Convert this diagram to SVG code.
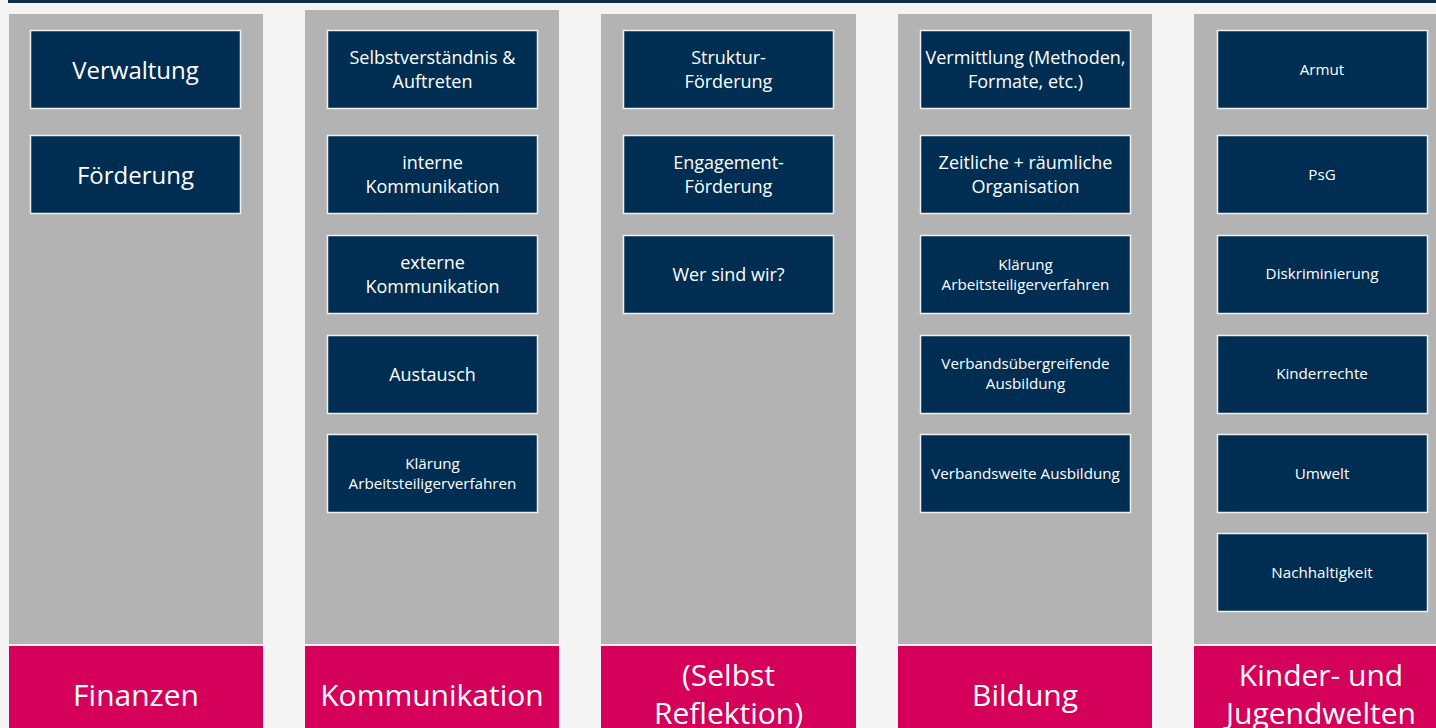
<svg xmlns="http://www.w3.org/2000/svg" width="1436" height="728" viewBox="0 0 1436 728">
<style>
.col{fill:#b3b3b3}
.foot{fill:#d5005a}
.box{fill:#002e52;stroke:#f0f0f0;stroke-width:1.5}
text{font-family:"Open Sans","Lato",sans-serif;fill:#ffffff;text-anchor:middle;dominant-baseline:central}
.t24{font-size:24px}
.t18{font-size:18px}
.t15{font-size:15.2px}
.t30{font-size:30px}
</style>
<rect x="0" y="0" width="1436" height="728" fill="#f4f4f4"/>
<rect x="8" y="0" width="1428" height="3" fill="#0e2c4c"/>
<g id="columns">
<rect class="col" x="9" y="14" width="254" height="630"/>
<rect class="col" x="305" y="10" width="254" height="634"/>
<rect class="col" x="601" y="14" width="255" height="630"/>
<rect class="col" x="898" y="14" width="254" height="630"/>
<rect class="col" x="1194" y="14" width="242" height="630"/>
</g>
<g id="footer-finanzen"><rect class="foot" x="9" y="646" width="254" height="82"/><text class="t30" x="136" y="694">Finanzen</text></g>
<g id="footer-kommunikation"><rect class="foot" x="305" y="646" width="254" height="82"/><text class="t30" x="432" y="694">Kommunikation</text></g>
<g id="footer-reflektion"><rect class="foot" x="601" y="646" width="255" height="82"/><text class="t30" x="728.5" y="674">(Selbst</text><text class="t30" x="728.5" y="712">Reflektion)</text></g>
<g id="footer-bildung"><rect class="foot" x="898" y="646" width="254" height="82"/><text class="t30" x="1025" y="694">Bildung</text></g>
<g id="footer-kinder"><rect class="foot" x="1194" y="646" width="242" height="82"/><text class="t30" x="1321" y="674">Kinder- und</text><text class="t30" x="1321" y="712">Jugendwelten</text></g>

<g id="n-verwaltung"><rect class="box" x="30.5" y="30.5" width="210" height="78"/><text class="t24" x="135.5" y="69">Verwaltung</text></g>
<g id="n-foerderung"><rect class="box" x="30.5" y="135.5" width="210" height="78"/><text class="t24" x="135.5" y="174">Förderung</text></g>

<g id="n-selbst"><rect class="box" x="327.5" y="30.5" width="210" height="78"/><text class="t18" x="432.5" y="57">Selbstverständnis &amp;</text><text class="t18" x="432.5" y="81">Auftreten</text></g>
<g id="n-intern"><rect class="box" x="327.5" y="135.5" width="210" height="78"/><text class="t18" x="432.5" y="162">interne</text><text class="t18" x="432.5" y="186">Kommunikation</text></g>
<g id="n-extern"><rect class="box" x="327.5" y="235.5" width="210" height="78"/><text class="t18" x="432.5" y="262">externe</text><text class="t18" x="432.5" y="286">Kommunikation</text></g>
<g id="n-austausch"><rect class="box" x="327.5" y="335.5" width="210" height="78"/><text class="t18" x="432.5" y="374">Austausch</text></g>
<g id="n-klaerung1"><rect class="box" x="327.5" y="434.5" width="210" height="78"/><text class="t15" x="432.5" y="463">Klärung</text><text class="t15" x="432.5" y="483">Arbeitsteiligerverfahren</text></g>

<g id="n-struktur"><rect class="box" x="623.5" y="30.5" width="210" height="78"/><text class="t18" x="728.5" y="57">Struktur-</text><text class="t18" x="728.5" y="81">Förderung</text></g>
<g id="n-engagement"><rect class="box" x="623.5" y="135.5" width="210" height="78"/><text class="t18" x="728.5" y="162">Engagement-</text><text class="t18" x="728.5" y="186">Förderung</text></g>
<g id="n-wer"><rect class="box" x="623.5" y="235.5" width="210" height="78"/><text class="t18" x="728.5" y="274">Wer sind wir?</text></g>

<g id="n-vermittlung"><rect class="box" x="920.5" y="30.5" width="210" height="78"/><text class="t18" x="1025.5" y="57">Vermittlung (Methoden,</text><text class="t18" x="1025.5" y="81">Formate, etc.)</text></g>
<g id="n-zeitlich"><rect class="box" x="920.5" y="135.5" width="210" height="78"/><text class="t18" x="1025.5" y="162">Zeitliche + räumliche</text><text class="t18" x="1025.5" y="186">Organisation</text></g>
<g id="n-klaerung2"><rect class="box" x="920.5" y="235.5" width="210" height="78"/><text class="t15" x="1025.5" y="264">Klärung</text><text class="t15" x="1025.5" y="284">Arbeitsteiligerverfahren</text></g>
<g id="n-verbandsueber"><rect class="box" x="920.5" y="335.5" width="210" height="78"/><text class="t15" x="1025.5" y="363">Verbandsübergreifende</text><text class="t15" x="1025.5" y="383">Ausbildung</text></g>
<g id="n-verbandsweit"><rect class="box" x="920.5" y="434.5" width="210" height="78"/><text class="t15" x="1025.5" y="473">Verbandsweite Ausbildung</text></g>

<g id="n-armut"><rect class="box" x="1217.5" y="30.5" width="210" height="78"/><text class="t15" x="1322" y="69">Armut</text></g>
<g id="n-psg"><rect class="box" x="1217.5" y="135.5" width="210" height="78"/><text class="t15" x="1322" y="174">PsG</text></g>
<g id="n-diskriminierung"><rect class="box" x="1217.5" y="235.5" width="210" height="78"/><text class="t15" x="1322" y="273">Diskriminierung</text></g>
<g id="n-kinderrechte"><rect class="box" x="1217.5" y="335.5" width="210" height="78"/><text class="t15" x="1322" y="373">Kinderrechte</text></g>
<g id="n-umwelt"><rect class="box" x="1217.5" y="434.5" width="210" height="78"/><text class="t15" x="1322" y="473">Umwelt</text></g>
<g id="n-nachhaltigkeit"><rect class="box" x="1217.5" y="533.5" width="210" height="78"/><text class="t15" x="1322" y="572">Nachhaltigkeit</text></g>
<g id="connectors"></g>
</svg>
